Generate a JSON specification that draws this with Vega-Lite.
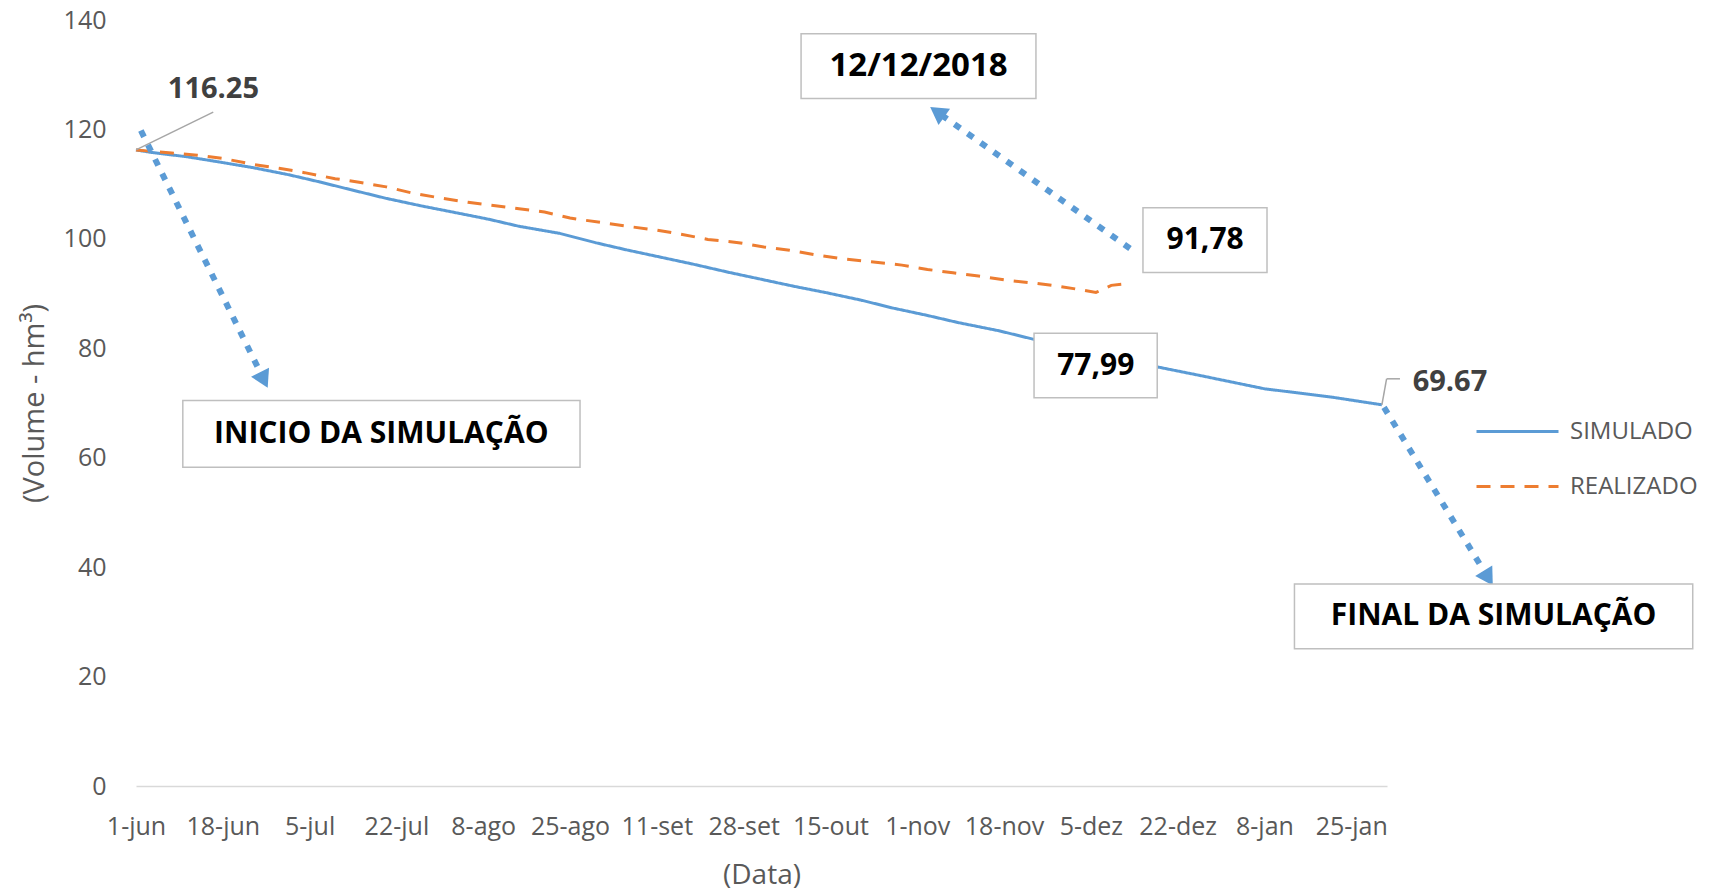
{
  "$schema": "https://vega.github.io/schema/vega-lite/v6.json",
  "width": 1251,
  "height": 766,
  "autosize": {"type": "none"},
  "padding": {"left": 136, "top": 20, "right": 333, "bottom": 108},
  "background": "white",
  "config": {
    "view": {"stroke": null},
    "font": "Open Sans",
    "axisX": {
      "labelFont": "Open Sans", "labelFontSize": 25, "labelColor": "#595959", "labelPadding": 28,
      "labelOverlap": false, "labelFlush": false, "ticks": false, "grid": false,
      "domainColor": "#d9d9d9", "domainWidth": 1.5,
      "titleFont": "Open Sans", "titleFontSize": 28, "titleFontWeight": "normal", "titleColor": "#595959", "titlePadding": 22
    },
    "axisY": {
      "labelFont": "Open Sans", "labelFontSize": 25, "labelColor": "#595959", "labelPadding": 30,
      "ticks": false, "domain": false, "grid": false,
      "titleFont": "Open Sans", "titleFontSize": 29, "titleFontWeight": "normal", "titleColor": "#595959", "titlePadding": 14
    }
  },
  "datasets": {
    "lines": [
      {"date": "2018-06-01", "volume": 116.25, "serie": "SIMULADO"},
      {"date": "2018-06-04", "volume": 115.8, "serie": "SIMULADO"},
      {"date": "2018-06-11", "volume": 115.0, "serie": "SIMULADO"},
      {"date": "2018-06-17", "volume": 114.1, "serie": "SIMULADO"},
      {"date": "2018-06-24", "volume": 113.0, "serie": "SIMULADO"},
      {"date": "2018-07-01", "volume": 111.7, "serie": "SIMULADO"},
      {"date": "2018-07-07", "volume": 110.4, "serie": "SIMULADO"},
      {"date": "2018-07-13", "volume": 109.0, "serie": "SIMULADO"},
      {"date": "2018-07-20", "volume": 107.4, "serie": "SIMULADO"},
      {"date": "2018-07-27", "volume": 106.0, "serie": "SIMULADO"},
      {"date": "2018-08-02", "volume": 104.9, "serie": "SIMULADO"},
      {"date": "2018-08-09", "volume": 103.6, "serie": "SIMULADO"},
      {"date": "2018-08-15", "volume": 102.3, "serie": "SIMULADO"},
      {"date": "2018-08-23", "volume": 101.0, "serie": "SIMULADO"},
      {"date": "2018-08-30", "volume": 99.3, "serie": "SIMULADO"},
      {"date": "2018-09-05", "volume": 98.0, "serie": "SIMULADO"},
      {"date": "2018-09-12", "volume": 96.6, "serie": "SIMULADO"},
      {"date": "2018-09-18", "volume": 95.4, "serie": "SIMULADO"},
      {"date": "2018-09-25", "volume": 93.9, "serie": "SIMULADO"},
      {"date": "2018-10-01", "volume": 92.7, "serie": "SIMULADO"},
      {"date": "2018-10-08", "volume": 91.3, "serie": "SIMULADO"},
      {"date": "2018-10-14", "volume": 90.2, "serie": "SIMULADO"},
      {"date": "2018-10-21", "volume": 88.8, "serie": "SIMULADO"},
      {"date": "2018-10-27", "volume": 87.4, "serie": "SIMULADO"},
      {"date": "2018-11-03", "volume": 86.0, "serie": "SIMULADO"},
      {"date": "2018-11-09", "volume": 84.7, "serie": "SIMULADO"},
      {"date": "2018-11-17", "volume": 83.2, "serie": "SIMULADO"},
      {"date": "2018-11-24", "volume": 81.6, "serie": "SIMULADO"},
      {"date": "2018-12-02", "volume": 80.0, "serie": "SIMULADO"},
      {"date": "2018-12-12", "volume": 77.99, "serie": "SIMULADO"},
      {"date": "2018-12-18", "volume": 76.6, "serie": "SIMULADO"},
      {"date": "2018-12-26", "volume": 75.1, "serie": "SIMULADO"},
      {"date": "2019-01-08", "volume": 72.6, "serie": "SIMULADO"},
      {"date": "2019-01-21", "volume": 71.1, "serie": "SIMULADO"},
      {"date": "2019-01-31", "volume": 69.67, "serie": "SIMULADO"},
      {"date": "2018-06-01", "volume": 116.25, "serie": "REALIZADO"},
      {"date": "2018-06-08", "volume": 115.7, "serie": "REALIZADO"},
      {"date": "2018-06-13", "volume": 115.3, "serie": "REALIZADO"},
      {"date": "2018-06-18", "volume": 114.7, "serie": "REALIZADO"},
      {"date": "2018-06-24", "volume": 113.6, "serie": "REALIZADO"},
      {"date": "2018-06-29", "volume": 112.9, "serie": "REALIZADO"},
      {"date": "2018-07-04", "volume": 112.1, "serie": "REALIZADO"},
      {"date": "2018-07-10", "volume": 111.0, "serie": "REALIZADO"},
      {"date": "2018-07-15", "volume": 110.3, "serie": "REALIZADO"},
      {"date": "2018-07-20", "volume": 109.5, "serie": "REALIZADO"},
      {"date": "2018-07-25", "volume": 108.4, "serie": "REALIZADO"},
      {"date": "2018-07-31", "volume": 107.4, "serie": "REALIZADO"},
      {"date": "2018-08-05", "volume": 106.7, "serie": "REALIZADO"},
      {"date": "2018-08-10", "volume": 106.1, "serie": "REALIZADO"},
      {"date": "2018-08-15", "volume": 105.5, "serie": "REALIZADO"},
      {"date": "2018-08-20", "volume": 104.9, "serie": "REALIZADO"},
      {"date": "2018-08-25", "volume": 103.8, "serie": "REALIZADO"},
      {"date": "2018-08-31", "volume": 103.0, "serie": "REALIZADO"},
      {"date": "2018-09-06", "volume": 102.2, "serie": "REALIZADO"},
      {"date": "2018-09-11", "volume": 101.6, "serie": "REALIZADO"},
      {"date": "2018-09-16", "volume": 100.8, "serie": "REALIZADO"},
      {"date": "2018-09-21", "volume": 99.9, "serie": "REALIZADO"},
      {"date": "2018-09-27", "volume": 99.3, "serie": "REALIZADO"},
      {"date": "2018-10-02", "volume": 98.5, "serie": "REALIZADO"},
      {"date": "2018-10-07", "volume": 97.9, "serie": "REALIZADO"},
      {"date": "2018-10-12", "volume": 97.1, "serie": "REALIZADO"},
      {"date": "2018-10-17", "volume": 96.4, "serie": "REALIZADO"},
      {"date": "2018-10-23", "volume": 95.8, "serie": "REALIZADO"},
      {"date": "2018-10-29", "volume": 95.2, "serie": "REALIZADO"},
      {"date": "2018-11-03", "volume": 94.4, "serie": "REALIZADO"},
      {"date": "2018-11-08", "volume": 93.8, "serie": "REALIZADO"},
      {"date": "2018-11-13", "volume": 93.2, "serie": "REALIZADO"},
      {"date": "2018-11-18", "volume": 92.5, "serie": "REALIZADO"},
      {"date": "2018-11-24", "volume": 91.9, "serie": "REALIZADO"},
      {"date": "2018-11-29", "volume": 91.3, "serie": "REALIZADO"},
      {"date": "2018-12-03", "volume": 90.7, "serie": "REALIZADO"},
      {"date": "2018-12-06", "volume": 90.2, "serie": "REALIZADO"},
      {"date": "2018-12-09", "volume": 91.5, "serie": "REALIZADO"},
      {"date": "2018-12-12", "volume": 91.78, "serie": "REALIZADO"}
    ],
    "boxes": [
      {"label": "12/12/2018", "d1": "2018-10-09T06:00Z", "d2": "2018-11-24T06:00Z", "v1": 137.5, "v2": 125.65, "dc": "2018-11-01T06:00Z", "vc": 131.6},
      {"label": "91,78", "d1": "2018-12-15T05:00Z", "d2": "2019-01-08T12:00Z", "v1": 105.68, "v2": 93.85, "dc": "2018-12-27T09:00Z", "vc": 99.77},
      {"label": "77,99", "d1": "2018-11-23T21:00Z", "d2": "2018-12-18T00:00Z", "v1": 82.76, "v2": 70.95, "dc": "2018-12-05T23:00Z", "vc": 76.85},
      {"label": "INICIO DA SIMULAÇÃO", "d1": "2018-06-10T04:00Z", "d2": "2018-08-26T23:00Z", "v1": 70.46, "v2": 58.27, "dc": "2018-07-19T01:00Z", "vc": 64.36},
      {"label": "FINAL DA SIMULAÇÃO", "d1": "2019-01-13T21:00Z", "d2": "2019-04-01T21:00Z", "v1": 36.9, "v2": 25.08, "dc": "2019-02-21T21:00Z", "vc": 30.99}
    ],
    "leaders": [
      {"seg": "a", "d1": "2018-06-01T00:00Z", "v1": 116.25, "d2": "2018-06-16T03:00Z", "v2": 123.15},
      {"seg": "b", "d1": "2019-01-31T00:00Z", "v1": 69.67, "d2": "2019-01-31T22:00Z", "v2": 74.42},
      {"seg": "c", "d1": "2019-01-31T22:00Z", "v1": 74.42, "d2": "2019-02-03T13:00Z", "v2": 74.42}
    ],
    "valuelabels": [
      {"label": "116.25", "d": "2018-06-16T04:00Z", "v": 127.3},
      {"label": "69.67", "d": "2019-02-13T08:00Z", "v": 73.9}
    ],
    "arrows": [
      {"arrow": "inicio", "d1": "2018-06-01T23:00Z", "v1": 119.8, "d2": "2018-06-25T12:00Z", "v2": 75.3, "dh": "2018-06-26T01:00Z", "vh": 74.2},
      {"arrow": "data", "d1": "2018-12-12T16:00Z", "v1": 98.24, "d2": "2018-11-05T19:00Z", "v2": 122.6, "dh": "2018-11-04T22:00Z", "vh": 123.2},
      {"arrow": "final", "d1": "2019-01-31T10:00Z", "v1": 69.2, "d2": "2019-02-20T06:00Z", "v2": 38.9, "dh": "2019-02-20T20:00Z", "vh": 38.0}
    ]
  },
  "layer": [
    {
      "data": {"name": "lines"},
      "mark": {"type": "line", "strokeWidth": 3},
      "encoding": {
        "x": {
          "field": "date", "type": "temporal", "title": "(Data)",
          "scale": {"type": "utc", "nice": false, "domain": [{"year": 2018, "month": 6, "date": 1, "utc": true}, {"year": 2019, "month": 2, "date": 1, "utc": true}]},
          "axis": {
            "values": [
              {"year": 2018, "month": 6, "date": 1, "utc": true},
              {"year": 2018, "month": 6, "date": 18, "utc": true},
              {"year": 2018, "month": 7, "date": 5, "utc": true},
              {"year": 2018, "month": 7, "date": 22, "utc": true},
              {"year": 2018, "month": 8, "date": 8, "utc": true},
              {"year": 2018, "month": 8, "date": 25, "utc": true},
              {"year": 2018, "month": 9, "date": 11, "utc": true},
              {"year": 2018, "month": 9, "date": 28, "utc": true},
              {"year": 2018, "month": 10, "date": 15, "utc": true},
              {"year": 2018, "month": 11, "date": 1, "utc": true},
              {"year": 2018, "month": 11, "date": 18, "utc": true},
              {"year": 2018, "month": 12, "date": 5, "utc": true},
              {"year": 2018, "month": 12, "date": 22, "utc": true},
              {"year": 2019, "month": 1, "date": 8, "utc": true},
              {"year": 2019, "month": 1, "date": 25, "utc": true}
            ],
            "labelExpr": "utcdate(datum.value) + '-' + ['jan','fev','mar','abr','mai','jun','jul','ago','set','out','nov','dez'][utcmonth(datum.value)]"
          }
        },
        "y": {
          "field": "volume", "type": "quantitative", "title": "(Volume - hm³)",
          "scale": {"domain": [0, 140], "nice": false},
          "axis": {"values": [0, 20, 40, 60, 80, 100, 120, 140]}
        },
        "color": {
          "field": "serie", "type": "nominal",
          "scale": {"domain": ["SIMULADO", "REALIZADO"], "range": ["#5B9BD5", "#ED7D31"]},
          "legend": {"orient": "none", "legendX": 1339, "legendY": 369, "title": null, "symbolType": "stroke", "symbolSize": 6724, "symbolStrokeWidth": 3, "labelFont": "Open Sans", "labelFontSize": 24, "labelColor": "#595959", "labelOffset": 10, "rowPadding": -26, "padding": 0}
        },
        "strokeDash": {
          "field": "serie", "type": "nominal",
          "scale": {"domain": ["SIMULADO", "REALIZADO"], "range": [[1, 0], [14, 10]]},
          "legend": {"orient": "none", "legendX": 1339, "legendY": 369, "title": null, "symbolType": "stroke", "symbolSize": 6724, "symbolStrokeWidth": 3, "labelFont": "Open Sans", "labelFontSize": 24, "labelColor": "#595959", "labelOffset": 10, "rowPadding": -26, "padding": 0}
        }
      }
    },
    {
      "data": {"name": "leaders"},
      "mark": {"type": "rule", "color": "#a6a6a6", "strokeWidth": 1.5},
      "encoding": {
        "x": {"field": "d1", "type": "temporal", "title": "(Data)"},
        "y": {"field": "v1", "type": "quantitative", "title": "(Volume - hm³)"},
        "x2": {"field": "d2"},
        "y2": {"field": "v2"}
      }
    },
    {
      "data": {"name": "arrows"},
      "mark": {"type": "rule", "color": "#5B9BD5", "strokeWidth": 6, "strokeDash": [7, 9], "strokeCap": "butt"},
      "encoding": {
        "x": {"field": "d1", "type": "temporal", "title": "(Data)"},
        "y": {"field": "v1", "type": "quantitative", "title": "(Volume - hm³)"},
        "x2": {"field": "d2"},
        "y2": {"field": "v2"}
      }
    },
    {
      "data": {"name": "arrows"},
      "transform": [{"filter": "datum.arrow === 'inicio'"}],
      "mark": {"type": "point", "shape": "triangle-up", "filled": true, "opacity": 1, "color": "#5B9BD5", "size": 400, "angle": 153.8},
      "encoding": {
        "x": {"field": "dh", "type": "temporal", "title": "(Data)"},
        "y": {"field": "vh", "type": "quantitative", "title": "(Volume - hm³)"}
      }
    },
    {
      "data": {"name": "arrows"},
      "transform": [{"filter": "datum.arrow === 'data'"}],
      "mark": {"type": "point", "shape": "triangle-up", "filled": true, "opacity": 1, "color": "#5B9BD5", "size": 400, "angle": 305.3},
      "encoding": {
        "x": {"field": "dh", "type": "temporal", "title": "(Data)"},
        "y": {"field": "vh", "type": "quantitative", "title": "(Volume - hm³)"}
      }
    },
    {
      "data": {"name": "arrows"},
      "transform": [{"filter": "datum.arrow === 'final'"}],
      "mark": {"type": "point", "shape": "triangle-up", "filled": true, "opacity": 1, "color": "#5B9BD5", "size": 400, "angle": 148.4},
      "encoding": {
        "x": {"field": "dh", "type": "temporal", "title": "(Data)"},
        "y": {"field": "vh", "type": "quantitative", "title": "(Volume - hm³)"}
      }
    },
    {
      "data": {"name": "boxes"},
      "mark": {"type": "rect", "fill": "white", "stroke": "#bfbfbf", "strokeWidth": 1.5},
      "encoding": {
        "x": {"field": "d1", "type": "temporal", "title": "(Data)"},
        "x2": {"field": "d2"},
        "y": {"field": "v1", "type": "quantitative", "title": "(Volume - hm³)"},
        "y2": {"field": "v2"}
      }
    },
    {
      "data": {"name": "boxes"},
      "transform": [{"filter": "datum.label !== '12/12/2018'"}],
      "mark": {"type": "text", "font": "Open Sans", "fontWeight": "bold", "fontSize": 30, "color": "#000000", "align": "center", "baseline": "middle"},
      "encoding": {
        "x": {"field": "dc", "type": "temporal", "title": "(Data)"},
        "y": {"field": "vc", "type": "quantitative", "title": "(Volume - hm³)"},
        "text": {"field": "label"}
      }
    },
    {
      "data": {"name": "boxes"},
      "transform": [{"filter": "datum.label === '12/12/2018'"}],
      "mark": {"type": "text", "font": "Open Sans", "fontWeight": "bold", "fontSize": 33, "color": "#000000", "align": "center", "baseline": "middle"},
      "encoding": {
        "x": {"field": "dc", "type": "temporal", "title": "(Data)"},
        "y": {"field": "vc", "type": "quantitative", "title": "(Volume - hm³)"},
        "text": {"field": "label"}
      }
    },
    {
      "data": {"name": "valuelabels"},
      "mark": {"type": "text", "font": "Open Sans", "fontWeight": "bold", "fontSize": 29, "color": "#404040", "align": "center", "baseline": "middle"},
      "encoding": {
        "x": {"field": "d", "type": "temporal", "title": "(Data)"},
        "y": {"field": "v", "type": "quantitative", "title": "(Volume - hm³)"},
        "text": {"field": "label"}
      }
    }
  ]
}
